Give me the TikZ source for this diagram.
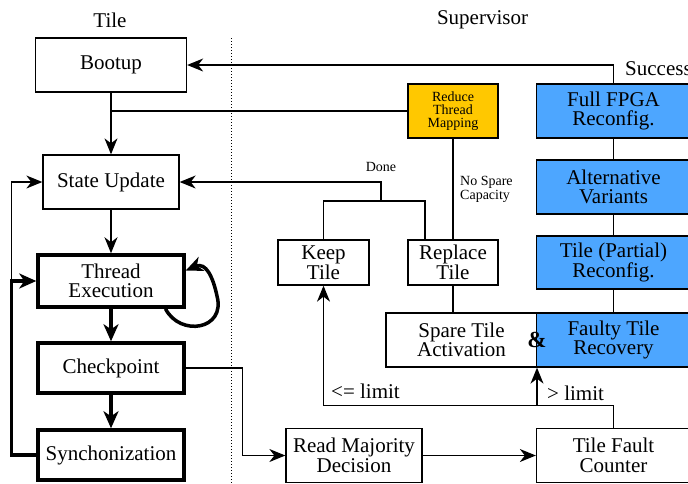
\documentclass[tikz,border=0pt]{standalone}
\usepackage{fontspec}
\setmainfont{Liberation Serif}
\usepackage{tikz}
\usetikzlibrary{arrows.meta,calc}
\definecolor{supblue}{RGB}{77,166,255}
\definecolor{supyellow}{RGB}{255,200,0}

\begin{document}
\begin{tikzpicture}[x=1pt,y=1pt,yscale=-1,xscale=1,
  box/.style={draw, line width=1.3pt, align=center, inner sep=0pt, font=\fontsize{21}{19.5}\selectfont},
  thickbox/.style={box, line width=3.5pt},
  bluebox/.style={box, fill=supblue},
  smalltxt/.style={inner sep=0pt, font=\fontsize{14}{14}\selectfont},
  bigtxt/.style={inner sep=0pt, font=\fontsize{21}{19.5}\selectfont},
  arr/.style={line width=1.3pt, -{Stealth[length=16pt,width=13pt,inset=5pt]}},
  thickarr/.style={line width=3.5pt, -{Stealth[length=17pt,width=15pt,inset=5pt]}},
  link/.style={line width=1.3pt}]
\useasboundingbox (0,0) rectangle (688,483);
\clip (0,0) rectangle (688,483);

%Straight Lines (separator)
\draw [dotted, line width=1pt] (231.7,38) -- (231.7,483) ;

% Text Node
\node [bigtxt] (lbltile) at (110,20) {Tile};
% Text Node
\node [bigtxt] (lblsup) at (482.5,20) {Supervisor};

%Shape: Rectangle
\node [box, minimum width=151, minimum height=54] (bootup) at (111,65) {Bootup};
%Shape: Rectangle
\node [box, minimum width=136, minimum height=54] (stateupd) at (111,182) {State Update};
%Shape: Rectangle
\node [thickbox, minimum width=146, minimum height=52] (threadexe) at (111,281) {Thread\\Execution};
%Shape: Rectangle
\node [thickbox, minimum width=146, minimum height=50] (checkpt) at (111,368) {Checkpoint};
%Shape: Rectangle
\node [thickbox, minimum width=146, minimum height=50] (sync) at (111,455) {Synchonization};

%Shape: Rectangle
\node [box, minimum width=91, minimum height=45] (keeptile) at (323.5,262.5) {Keep\\Tile};
%Shape: Rectangle
\node [box, minimum width=90, minimum height=45] (replacetile) at (453,262.5) {Replace\\Tile};
%Shape: Rectangle
\node [box, fill=supyellow, minimum width=90, minimum height=54, font=\fontsize{14}{13.3}\selectfont] (reducemap) at (453,111) {Reduce\\Thread\\Mapping};

%Shape: Rectangle
\node [bluebox, minimum width=154, minimum height=54] (fullfpga) at (613.5,111) {Full FPGA\\Reconfig.};
%Shape: Rectangle
\node [bluebox, minimum width=154, minimum height=54] (altvar) at (613.5,187) {Alternative\\Variants};
%Shape: Rectangle
\node [bluebox, minimum width=154, minimum height=53] (tilepart) at (613.5,262.5) {Tile (Partial)\\Reconfig.};
%Shape: Rectangle
\node [box, minimum width=151, minimum height=54] (spare) at (461.5,340) {Spare Tile\\Activation};
%Shape: Rectangle
\node [bluebox, minimum width=154, minimum height=54] (faulty) at (613.5,340) {Faulty Tile\\Recovery};
% Text Node
\node [inner sep=0pt, font=\fontsize{23}{23}\selectfont\bfseries] (amp) at (537,340) {\&};

%Shape: Rectangle
\node [box, minimum width=136, minimum height=54] (readmaj) at (354,455.5) {Read Majority\\Decision};
%Shape: Rectangle
\node [box, minimum width=154, minimum height=54] (faultcnt) at (613.5,455.5) {Tile Fault\\Counter};

\coordinate (donefork) at (381,201);
\coordinate (limitfork) at (537,405.5);

%Straight Lines
\draw [arr] (fullfpga.north) |- (bootup.east) ;
\draw [arr] (bootup.south) -- (stateupd.north) ;
\draw [link] (reducemap.west) -- (bootup.south |- reducemap.west) ;
\draw [link] (reducemap.south) -- (replacetile.north) ;
\draw [link] (keeptile.north) |- (donefork) -| ([xshift=-28pt]replacetile.north) ;
\draw [arr] (donefork) |- (stateupd.east) ;
\draw [link] (fullfpga.south) -- (altvar.north) ;
\draw [link] (altvar.south) -- (tilepart.north) ;
\draw [link] (tilepart.south) -- (tilepart.south |- faulty.north) ;
\draw [link] (replacetile.south) -- (replacetile.south |- spare.north) ;
\draw [arr] (faultcnt.north) |- (limitfork) -| (keeptile.south) ;
\draw [arr] (limitfork) -- (limitfork |- spare.south) ;
\draw [arr] (checkpt.east) -- ++(57,0) |- (readmaj.west) ;
\draw [arr] (readmaj.east) -- (faultcnt.west) ;

\draw [arr] (stateupd.south) -- (threadexe.north) ;
\draw [thickarr] (threadexe.south) -- (checkpt.north) ;
\draw [thickarr] (checkpt.south) -- (sync.north) ;
\draw [thickarr] (sync.west) -- ++(-25,0) |- (threadexe.west) ;
\draw [arr] ([xshift=-25pt]threadexe.west) |- (stateupd.west) ;
%Self loop
\draw [thickarr] (threadexe.-27) .. controls (180,337) and (226,330) .. (217,296) .. controls (213,277) and (206,262) .. (threadexe.8) ;

% Text Node
\node [bigtxt, anchor=west] (lblsuccess) at (625,69) {Success};
% Text Node
\node [smalltxt] (lbldone) at (381,167) {Done};
% Text Node
\node [smalltxt, anchor=west, align=left] (lblnospare) at (460,189) {No Spare\\Capacity};
% Text Node
\node [bigtxt, anchor=west] (lblle) at (331,391) {<= limit};
% Text Node
\node [bigtxt, anchor=west] (lblgt) at (547,393) {> limit};

\end{tikzpicture}
\end{document}
